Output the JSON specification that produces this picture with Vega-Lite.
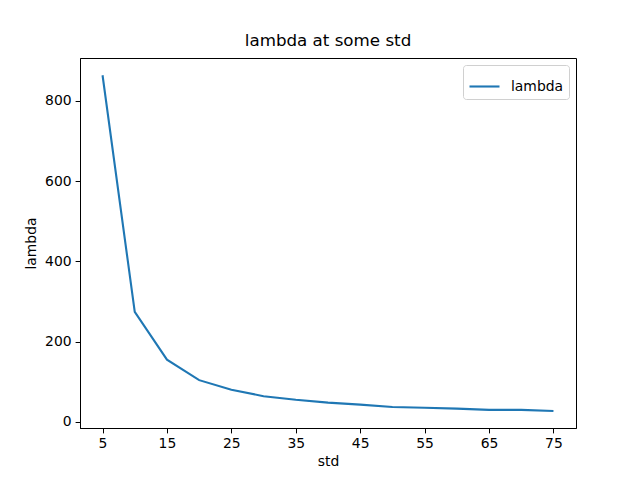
{
  "$schema": "https://vega.github.io/schema/vega-lite/v6.json",
  "width": 496,
  "height": 370,
  "autosize": "none",
  "padding": {"left": 80, "top": 58, "right": 64, "bottom": 52},
  "background": "white",
  "title": {"text": "lambda at some std", "font": "DejaVu Sans", "fontSize": 16.7, "fontWeight": "normal", "color": "black", "offset": 8},
  "config": {
    "view": {"stroke": "black", "strokeWidth": 1},
    "axis": {"labelFont": "DejaVu Sans", "titleFont": "DejaVu Sans", "labelFontSize": 13.9, "titleFontSize": 13.9, "titleFontWeight": "normal", "labelColor": "black", "titleColor": "black", "tickColor": "black", "domainColor": "black", "grid": false, "tickSize": 4.9, "labelPadding": 4}
  },
  "data": {
    "values": [
      {"std": 5, "lambda": 864},
      {"std": 10, "lambda": 274},
      {"std": 15, "lambda": 155},
      {"std": 20, "lambda": 104},
      {"std": 25, "lambda": 80},
      {"std": 30, "lambda": 64},
      {"std": 35, "lambda": 55},
      {"std": 40, "lambda": 48},
      {"std": 45, "lambda": 43},
      {"std": 50, "lambda": 37},
      {"std": 55, "lambda": 35},
      {"std": 60, "lambda": 33},
      {"std": 65, "lambda": 30},
      {"std": 70, "lambda": 30},
      {"std": 75, "lambda": 27}
    ]
  },
  "mark": {"type": "line", "strokeWidth": 2.1},
  "encoding": {
    "x": {"field": "std", "type": "quantitative", "title": "std", "scale": {"domain": [1.5, 78.5], "nice": false, "zero": false}, "axis": {"values": [5, 15, 25, 35, 45, 55, 65, 75], "titlePadding": 4}},
    "y": {"field": "lambda", "type": "quantitative", "title": "lambda", "scale": {"domain": [-15.3, 907], "nice": false, "zero": false}, "axis": {"values": [0, 200, 400, 600, 800], "titlePadding": 6}},
    "color": {
      "datum": "lambda",
      "scale": {"range": ["#1f77b4"]},
      "legend": {"title": null, "orient": "top-right", "offset": 7, "symbolType": "stroke", "symbolSize": 900, "symbolStrokeWidth": 2.1, "labelOffset": 10, "labelFont": "DejaVu Sans", "labelFontSize": 13.9, "labelColor": "black", "strokeColor": "#d0d0d0", "fillColor": "white", "padding": 5, "cornerRadius": 3}
    }
  }
}
